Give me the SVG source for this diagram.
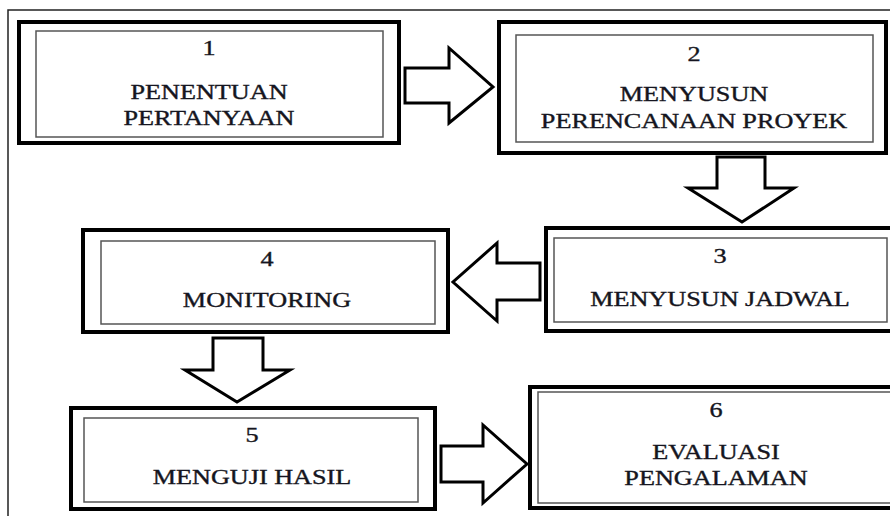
<svg xmlns="http://www.w3.org/2000/svg" width="890" height="516" viewBox="0 0 890 516">
<style>
.outer{fill:#fff;stroke:#000;stroke-width:4}
.inner{fill:none;stroke:#555;stroke-width:1.5}
.arrow{fill:#fff;stroke:#000;stroke-width:3;stroke-linejoin:miter}
text{font-family:"Liberation Serif","Times New Roman",serif;font-size:20px;fill:#151520;stroke:#151520;stroke-width:0.35;text-anchor:middle}
.frame{fill:none;stroke:#222;stroke-width:1.5}
</style>
<rect width="890" height="516" fill="#fff"/>
<path class="frame" d="M8,516 V10 H890"/>
<g id="connectors">
<polygon class="arrow" points="405,68 449,68 449,48 493,87 449,123 449,103 405,103"/>
<polygon class="arrow" points="717,157 765,157 765,188 794,188 742,222 688,188 717,188"/>
<polygon class="arrow" points="540,263 497,263 497,243 453,282 497,321 497,300 540,300"/>
<polygon class="arrow" points="213,338 263,338 263,370 290,370 237,402 185,370 213,370"/>
<polygon class="arrow" points="441,446 483,446 483,425 527,464 483,503 483,482 441,482"/>
</g>
<g id="node1">
<rect class="outer" x="19" y="22" width="380" height="121"/>
<rect class="inner" x="36" y="31" width="347" height="106"/>
<g transform="translate(209,0) scale(1.31,1)">
<text x="0" y="55">1</text>
<text x="0" y="99">PENENTUAN</text>
<text x="0" y="125">PERTANYAAN</text>
</g>
</g>
<g id="node2">
<rect class="outer" x="499" y="22" width="387" height="131"/>
<rect class="inner" x="516" y="35" width="357" height="107"/>
<g transform="translate(694,0) scale(1.31,1)">
<text x="0" y="61">2</text>
<text x="0" y="101">MENYUSUN</text>
<text x="0" y="128">PERENCANAAN PROYEK</text>
</g>
</g>
<g id="node3">
<rect class="outer" x="546" y="228" width="360" height="103"/>
<rect class="inner" x="554" y="238" width="333" height="84"/>
<g transform="translate(720,0) scale(1.31,1)">
<text x="0" y="263">3</text>
<text x="0" y="306">MENYUSUN JADWAL</text>
</g>
</g>
<g id="node4">
<rect class="outer" x="83" y="230" width="365" height="102"/>
<rect class="inner" x="101" y="241" width="334" height="83"/>
<g transform="translate(267,0) scale(1.31,1)">
<text x="0" y="266">4</text>
<text x="0" y="307">MONITORING</text>
</g>
</g>
<g id="node5">
<rect class="outer" x="71" y="408" width="364" height="101"/>
<rect class="inner" x="84" y="418" width="334" height="84"/>
<g transform="translate(252,0) scale(1.31,1)">
<text x="0" y="442">5</text>
<text x="0" y="484">MENGUJI HASIL</text>
</g>
</g>
<g id="node6">
<rect class="outer" x="530" y="387" width="380" height="121"/>
<rect class="inner" x="538" y="392" width="370" height="111"/>
<g transform="translate(716,0) scale(1.31,1)">
<text x="0" y="417">6</text>
<text x="0" y="459">EVALUASI</text>
<text x="0" y="485">PENGALAMAN</text>
</g>
</g>
</svg>
